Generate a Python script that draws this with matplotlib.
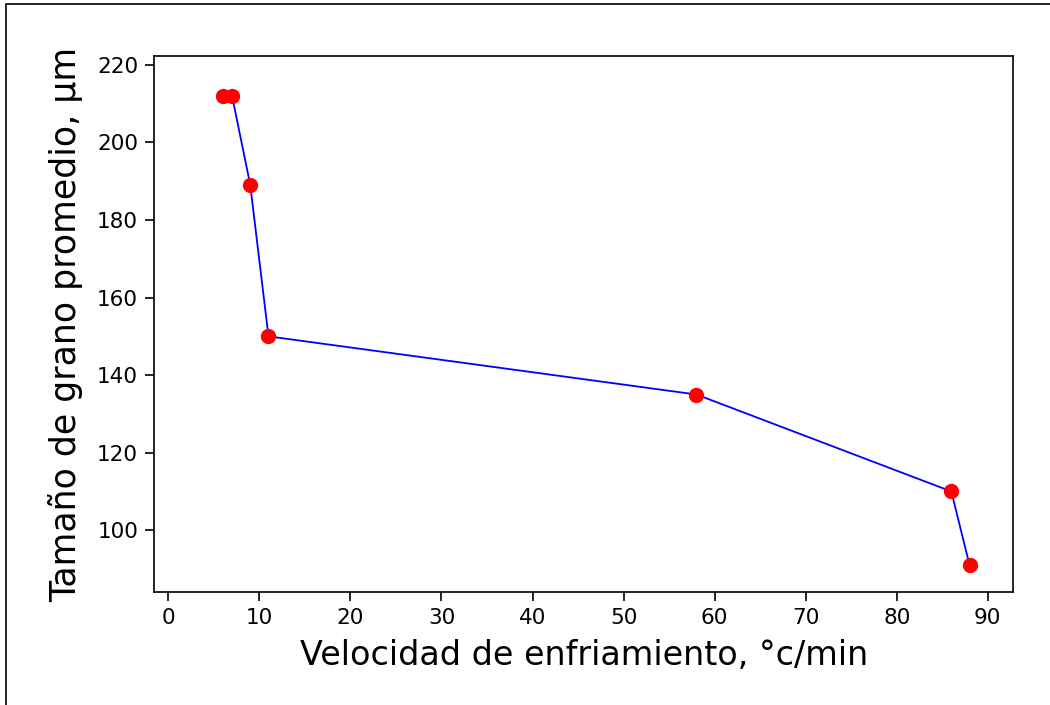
import matplotlib.pyplot as plt
from matplotlib.patches import Rectangle

velocidad = [6, 7, 9, 11, 58, 86, 88]
tamano = [212, 212, 189, 150, 135, 110, 91]
xticks = [0, 10, 20, 30, 40, 50, 60, 70, 80, 90]
yticks = [100, 120, 140, 160, 180, 200, 220]

fig = plt.figure(figsize=(10.5, 7.05), dpi=100)
ax = fig.add_axes([0.1467, 0.1599, 0.8183, 0.7607])

ax.plot(velocidad, tamano, color="blue", linewidth=1.3, zorder=2)
ax.plot(velocidad, tamano, "o", color="red", markersize=10, zorder=3)

ax.set_xlim(-1.57, 92.8)
ax.set_ylim(84, 222.3)
ax.set_xticks(xticks)
ax.set_yticks(yticks)
ax.tick_params(direction="out", length=6.5, width=1.2, labelsize=15.5, pad=5)
for s in ax.spines.values():
    s.set_linewidth(1.2)

ax.set_xlabel("Velocidad de enfriamiento, °c/min", fontsize=24, labelpad=8)
ax.set_ylabel("Tamaño de grano promedio, µm", fontsize=25, labelpad=10)

# marco exterior
fig.patches.append(Rectangle((6 / 1050, -0.05), 1.1, 1 - 4 / 705 + 0.05,
                             transform=fig.transFigure, fill=False,
                             edgecolor="black", linewidth=1.2))

fig.savefig("out.png", dpi=100)
